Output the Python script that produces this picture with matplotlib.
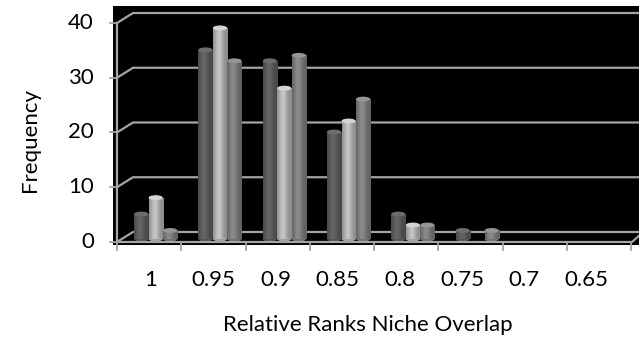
import numpy as np
import matplotlib
matplotlib.use("Agg")
import matplotlib.pyplot as plt
from matplotlib.patches import Ellipse, Rectangle
from matplotlib.colors import to_rgb

categories = ['1', '0.95', '0.9', '0.85', '0.8', '0.75', '0.7', '0.65']
series_a = [5, 35, 33, 20, 5, 2, 0, 0]
series_b = [8, 39, 28, 22, 3, 0, 0, 0]
series_c = [2, 33, 34, 26, 3, 2, 0, 0]
y_ticks = [0, 10, 20, 30, 40]

plt.rcParams['font.family'] = ['Lato', 'DejaVu Sans']

W, H = 639, 342
fig = plt.figure(figsize=(W / 100, H / 100), dpi=100)
ax = fig.add_axes([113 / W, (H - 245) / H, 526 / W, 239 / H])
ax.set_facecolor('black')
for s in ax.spines.values():
    s.set_visible(False)
ax.set_xticks([])
ax.set_yticks([])
XL = (-0.586, 7.594)
YL = (-1.1, 42.56)


def X(px):
    return (px - 150.7) / 64.3


def Y(py):
    return (239 - py) / 5.475


grid_col = '#a4a4a4'
front_off = -0.548
back_off = 1.278
FS = 16

# back wall gridlines with perspective
for v in y_ticks:
    ax.plot([X(117), X(133), X(640)], [v + front_off, v + back_off, v + back_off],
            color=grid_col, lw=1.6, zorder=1, clip_on=False, solid_capstyle='butt')
    ax.plot([X(110), X(117)], [v + front_off] * 2, color=grid_col, lw=1.3, clip_on=False, zorder=1)
    ax.text(X(94), v + front_off, str(v), ha='right', va='center', fontsize=FS, color='black')

# left axis
ax.plot([X(117), X(117)], [front_off, y_ticks[-1] + front_off], color=grid_col, lw=1.6, zorder=1, clip_on=False)
# floor front edge
ax.plot([X(117), X(632), X(641)], [front_off, front_off, Y(234)], color=grid_col, lw=1.6,
        zorder=5, clip_on=False)

# x tick marks
for k in range(len(categories) + 1):
    xx = X(117) + k
    ax.plot([xx, xx], [Y(243), Y(250)], color=grid_col, lw=1.3, clip_on=False)

# x tick labels
for i, c in enumerate(categories):
    ax.text(X(151 + 62.2 * i), Y(280), c, ha='center', va='center', fontsize=FS, color='black')

# bars
series = [series_a, series_b, series_c]
base_colors = ['#5c5c5c', '#b4b4b4', '#7e7e7e']
xpos = np.arange(len(categories))
t = np.linspace(0, 1, 80)
prof = 0.78 + 0.32 * np.exp(-((t - 0.4) / 0.28) ** 2)
bw = 0.22
for j, vals in enumerate(series):
    base = np.array(to_rgb(base_colors[j]))
    img = np.clip(base[None, None, :] * prof[None, :, None], 0, 1)
    cap_col = np.clip(base * 1.18, 0, 1)
    bars = ax.bar(xpos + 0.078 + (j - 1) * 0.2255, vals, width=bw, color='none',
                  linewidth=0, zorder=3)
    for b in bars:
        h = b.get_height()
        if h <= 0:
            continue
        x0 = b.get_x()
        top = h - 0.45
        rect = Rectangle((x0, 0), bw, top, transform=ax.transData)
        im = ax.imshow(img, extent=[x0, x0 + bw, -0.3, top], aspect='auto',
                       interpolation='bilinear', zorder=3)
        im.set_clip_path(rect)
        bot = Ellipse((x0 + bw / 2, 0.0), bw, 0.9, facecolor=tuple(base * 0.9), edgecolor='none', zorder=2.9)
        ax.add_patch(bot)
        cap = Ellipse((x0 + bw / 2, top), bw, 0.9, facecolor=tuple(cap_col), edgecolor='none', zorder=3.2)
        ax.add_patch(cap)

ax.set_xlim(*XL)
ax.set_ylim(*YL)

fig.text(30 / W, 1 - 140 / H, 'Frequency', rotation=90, ha='center', va='center', fontsize=FS)
fig.text(368 / W, 1 - 325 / H, 'Relative Ranks Niche Overlap', ha='center', va='center', fontsize=FS)

fig.savefig('out.png', dpi=100, facecolor='white')
